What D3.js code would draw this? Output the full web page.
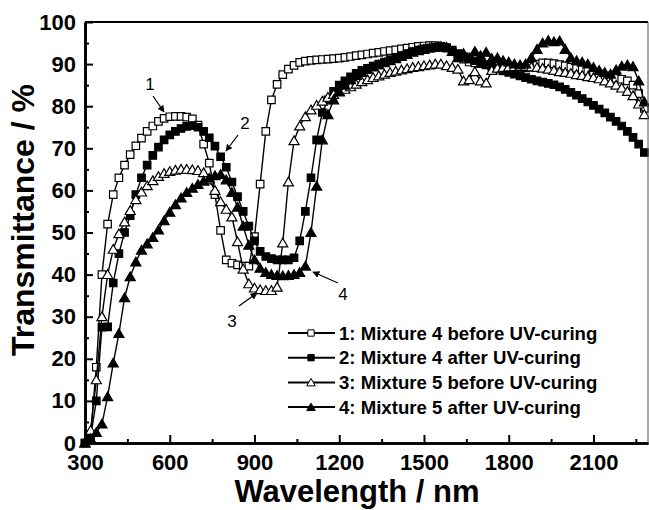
<!DOCTYPE html>
<html>
<head>
<meta charset="utf-8">
<script src="https://cdn.jsdelivr.net/npm/d3@7"></script>
<style>
  body { margin: 0; background: #fff; }
  svg { display: block; font-family: "Liberation Sans", Arial, sans-serif; }
</style>
</head>
<body>
<div class="chart"></div>
<script>
// wavelength grid (nm)
const wavelengths = [
  300, 320, 340, 360, 380, 400, 420, 440, 460, 480,
  500, 520, 540, 560, 580, 600, 620, 640, 660, 680,
  700, 720, 740, 760, 780, 800, 820, 840, 860, 880,
  900, 920, 940, 960, 980, 1000, 1020, 1040, 1060, 1080,
  1100, 1120, 1140, 1160, 1180, 1200, 1220, 1240, 1260, 1280,
  1300, 1320, 1340, 1360, 1380, 1400, 1420, 1440, 1460, 1480,
  1500, 1520, 1540, 1560, 1580, 1600, 1620, 1640, 1660, 1680,
  1700, 1720, 1740, 1760, 1780, 1800, 1820, 1840, 1860, 1880,
  1900, 1920, 1940, 1960, 1980, 2000, 2020, 2040, 2060, 2080,
  2100, 2120, 2140, 2160, 2180, 2200, 2220, 2240, 2260, 2280
];

// transmittance (%)
const mix4Before = [
  0, 2, 18, 40, 52, 59, 63, 66, 68.5, 70.6,
  72.4, 74, 75.3, 76.4, 77.1, 77.5, 77.6, 77.6, 77.4, 77,
  75.5, 71, 66.5, 59, 50.5, 43.5, 42.7, 42.3, 42, 42,
  49, 61.5, 74, 81.5, 85.2, 87.5, 88.8, 89.7, 90.4, 90.7,
  90.9, 91, 91.1, 91.2, 91.3, 91.4, 91.6, 91.8, 92, 92.2,
  92.4, 92.6, 92.8, 93, 93.2, 93.4, 93.6, 93.8, 94, 94.2,
  94.3, 94.4, 94.4, 94.2, 93.9, 93, 92, 91.2, 90.5, 90.3,
  90.1, 89.9, 89.7, 89.6, 89.5, 89.4, 89.2, 89, 89.1, 89.5,
  90, 90.3, 90.3, 90.1, 89.9, 89.6, 89.3, 89, 88.7, 88.4,
  88, 87.6, 87.2, 86.8, 86.6, 86.4, 86, 85, 83, 79.5
];
const mix4After = [
  0, 1.5, 10, 27.5, 27.6, 38, 45, 50, 54, 59,
  63, 66, 68.3, 70.3, 72, 73.2, 74, 74.7, 75.2, 75.4,
  75, 74, 72.5, 70.5, 68, 65.5, 62, 58.5, 55, 51.5,
  48, 45.5, 44.3, 43.8, 43.5, 43.5, 43.5, 44, 48, 55,
  63, 72, 78.5, 81.5, 83.5, 85, 86, 87, 87.8, 88.5,
  89, 89.5, 90, 90.5, 91, 91.5, 92, 92.5, 93, 93.3,
  93.6, 93.8, 94, 94, 93.8, 93.3, 92.5, 91.8, 91.2, 90.8,
  90.3, 89.8, 89.3, 88.8, 88.4, 88, 87.6, 87.2, 86.8, 86.4,
  86, 85.7, 85.4, 85.1, 84.6, 84, 83.3, 82.6, 81.8, 81,
  80.2, 79.3, 78.4, 77.4, 76.4, 75.3, 74, 72.6, 71, 69
];
const mix5Before = [
  0, 3, 15, 30, 40, 46, 49.7, 52.5, 55.2, 57.8,
  59.6, 61.1, 62.3, 63.3, 64, 64.5, 64.8, 65, 65, 64.9,
  64.7, 64.2, 62.5, 60, 57.3, 55.5, 53.7, 47.8, 41.3, 37.8,
  36.8, 36.4, 36.2, 36.2, 37, 47.5, 62, 71.8, 75.3, 77.5,
  79.1, 80.2, 81.2, 82.1, 82.8, 83.4, 84, 84.6, 85.2, 85.8,
  86.3, 86.8, 87.2, 87.6, 88, 88.3, 88.6, 88.9, 89.2, 89.4,
  89.6, 89.8, 90, 90, 89.6, 89.2, 88.8, 86, 86.3, 88.2,
  86, 85.5, 88.5, 89, 89.2, 89.3, 89.4, 89.4, 89.4, 89.3,
  89.2, 89, 88.8, 88.5, 88.2, 88, 87.8, 87.5, 87.3, 87,
  86.8, 86.5, 86, 85.5, 85, 84.3, 83.5, 82.5, 80.5, 78
];
const mix5After = [
  0, 1, 2.5, 4.5, 11, 19, 26, 34.5, 39.5, 43,
  45.8, 47.3, 48.8, 50.6, 52.8, 54.8, 56.6, 58.2, 59.5, 60.5,
  61.4, 62.2, 62.9, 63.5, 63.8, 62.5, 59.5, 56, 51.5, 47,
  43.5, 41.5, 40.5, 40, 39.8, 39.7, 39.8, 40, 40.5, 42,
  50, 61, 72, 78, 81.5, 83.5, 85, 86.3, 87.3, 88,
  88.7, 89.3, 89.8, 90.3, 90.8, 91.3, 91.8, 92.3, 92.8, 93.2,
  93.5, 93.8, 94, 94.2, 94, 93, 91.5, 92.5, 91.5, 93,
  92, 92.8, 91.3, 91.5, 90.8, 90.5, 90, 89.8, 90, 91.5,
  93.5, 95, 95.6, 95.3, 95.5, 93.5, 91.5, 90.8, 90.5, 90,
  89.2, 88.5, 88, 87.6, 88.6, 89.5, 89.8, 89.4, 86, 81
];

const seriesLabels = [
  '1: Mixture 4 before UV-curing',
  '2: Mixture 4 after UV-curing',
  '3: Mixture 5 before UV-curing',
  '4: Mixture 5 after UV-curing'
];
const xTicks = [300, 600, 900, 1200, 1500, 1800, 2100];
const xMinorTicks = [450, 750, 1050, 1350, 1650, 1950, 2250];
const yTicks = [0, 10, 20, 30, 40, 50, 60, 70, 80, 90, 100];
const yMinorTicks = [5, 15, 25, 35, 45, 55, 65, 75, 85, 95];

const width = 649;
const height = 510;

const series = [
  { name: seriesLabels[0], values: mix4Before, shape: 'square', filled: false },
  { name: seriesLabels[1], values: mix4After, shape: 'square', filled: true },
  { name: seriesLabels[2], values: mix5Before, shape: 'triangle', filled: false },
  { name: seriesLabels[3], values: mix5After, shape: 'triangle', filled: true }
];

const x = d3.scaleLinear().domain([300, 2293]).range([85, 648]);
const y = d3.scaleLinear().domain([0, 100]).range([443, 22]);

const svg = d3
  .select('.chart')
  .append('svg')
  .attr('width', width)
  .attr('height', height);

svg.append('defs')
  .append('marker')
  .attr('id', 'arrow')
  .attr('viewBox', '0 0 10 10')
  .attr('refX', 9)
  .attr('refY', 5)
  .attr('markerWidth', 7)
  .attr('markerHeight', 7)
  .attr('markerUnits', 'userSpaceOnUse')
  .attr('orient', 'auto')
  .append('path')
  .attr('d', 'M0,0 L10,5 L0,10 Z')
  .attr('fill', '#000');

function symbolPath(shape, big) {
  const sym = shape === 'square' ? d3.symbolSquare : d3.symbolTriangle;
  const size = shape === 'square' ? (big ? 56 : 40) : (big ? 44 : 32);
  return d3.symbol().type(sym).size(size)();
}

// data
const line = d3
  .line()
  .x((d) => x(d[0]))
  .y((d) => y(d[1]));

series.forEach((s) => {
  const pts = wavelengths.map((w, i) => [w, s.values[i]]);
  const g = svg.append('g');
  g.append('path')
    .attr('d', line(pts))
    .attr('fill', 'none')
    .attr('stroke', '#000')
    .attr('stroke-width', 1.4);
  g.selectAll('path.pt')
    .data(pts)
    .enter()
    .append('path')
    .attr('class', 'pt')
    .attr('d', symbolPath(s.shape, true))
    .attr('transform', (d) => `translate(${x(d[0])},${y(d[1]) + (s.shape === 'triangle' ? 1 : 0)})`)
    .attr('fill', s.filled ? '#000' : '#fff')
    .attr('stroke', '#000')
    .attr('stroke-width', 1.2);
});

// axes
svg
  .append('g')
  .attr('transform', `translate(0,${y(0)})`)
  .call(d3.axisBottom(x).tickValues(xTicks).tickFormat(d3.format('d')).tickSizeInner(-8).tickSizeOuter(0).tickPadding(11));
svg
  .append('g')
  .attr('transform', `translate(0,${y(0)})`)
  .call(d3.axisBottom(x).tickValues(xMinorTicks).tickSizeInner(-4).tickSizeOuter(0).tickFormat(''));

svg
  .append('g')
  .attr('transform', `translate(${x(300)},0)`)
  .call(d3.axisLeft(y).tickValues(yTicks).tickSizeInner(-8).tickSizeOuter(0).tickPadding(9));
svg
  .append('g')
  .attr('transform', `translate(${x(300)},0)`)
  .call(d3.axisLeft(y).tickValues(yMinorTicks).tickSizeInner(-4).tickSizeOuter(0).tickFormat(''));

svg.selectAll('.domain').attr('stroke', '#000').attr('stroke-width', 2.6);
svg.selectAll('.tick line').attr('stroke', '#000').attr('stroke-width', 2);
svg.selectAll('.tick text')
  .attr('fill', '#000')
  .style('font-size', '22px')
  .style('font-weight', 'bold')
  .style('font-family', '"Liberation Sans", Arial, sans-serif');

// top and right frame
svg.append('line')
  .attr('x1', x(300)).attr('x2', 648)
  .attr('y1', y(100)).attr('y2', y(100))
  .attr('stroke', '#000').attr('stroke-width', 2);
svg.append('line')
  .attr('x1', 648).attr('x2', 648)
  .attr('y1', y(100)).attr('y2', y(0))
  .attr('stroke', '#555').attr('stroke-width', 1);

// axis titles
svg.append('text')
  .attr('x', 357)
  .attr('y', 502)
  .attr('text-anchor', 'middle')
  .style('font-size', '31px')
  .style('font-weight', 'bold')
  .text('Wavelength / nm');

svg.append('text')
  .attr('transform', 'translate(34,220) rotate(-90)')
  .attr('text-anchor', 'middle')
  .style('font-size', '32px')
  .style('font-weight', 'bold')
  .text('Transmittance / %');

// curve labels with arrows
const callouts = [
  { label: '1', tx: 150, ty: 90, from: [153, 96], to: [164, 112] },
  { label: '2', tx: 245, ty: 129, from: [238, 135], to: [226, 151] },
  { label: '3', tx: 232, ty: 327, from: [239, 306], to: [257, 293] },
  { label: '4', tx: 343, ty: 300, from: [338, 283], to: [313, 272] }
];
callouts.forEach((c) => {
  svg.append('text')
    .attr('x', c.tx)
    .attr('y', c.ty)
    .attr('text-anchor', 'middle')
    .style('font-size', '17px')
    .text(c.label);
  svg.append('line')
    .attr('x1', c.from[0]).attr('y1', c.from[1])
    .attr('x2', c.to[0]).attr('y2', c.to[1])
    .attr('stroke', '#000')
    .attr('stroke-width', 1.2)
    .attr('marker-end', 'url(#arrow)');
});

// legend
const legend = svg.append('g');
series.forEach((s, i) => {
  const ly = 333 + i * 24.7;
  legend.append('line')
    .attr('x1', 288).attr('x2', 335)
    .attr('y1', ly).attr('y2', ly)
    .attr('stroke', '#000')
    .attr('stroke-width', 2);
  legend.append('path')
    .attr('d', symbolPath(s.shape, false))
    .attr('transform', `translate(311,${ly + (s.shape === 'triangle' ? 1 : 0)})`)
    .attr('fill', s.filled ? '#000' : '#fff')
    .attr('stroke', '#000')
    .attr('stroke-width', 1);
  legend.append('text')
    .attr('x', 339)
    .attr('y', ly)
    .attr('dy', '0.36em')
    .style('font-size', '18.6px')
    .style('font-weight', 'bold')
    .text(s.name);
});
</script>
</body>
</html>
